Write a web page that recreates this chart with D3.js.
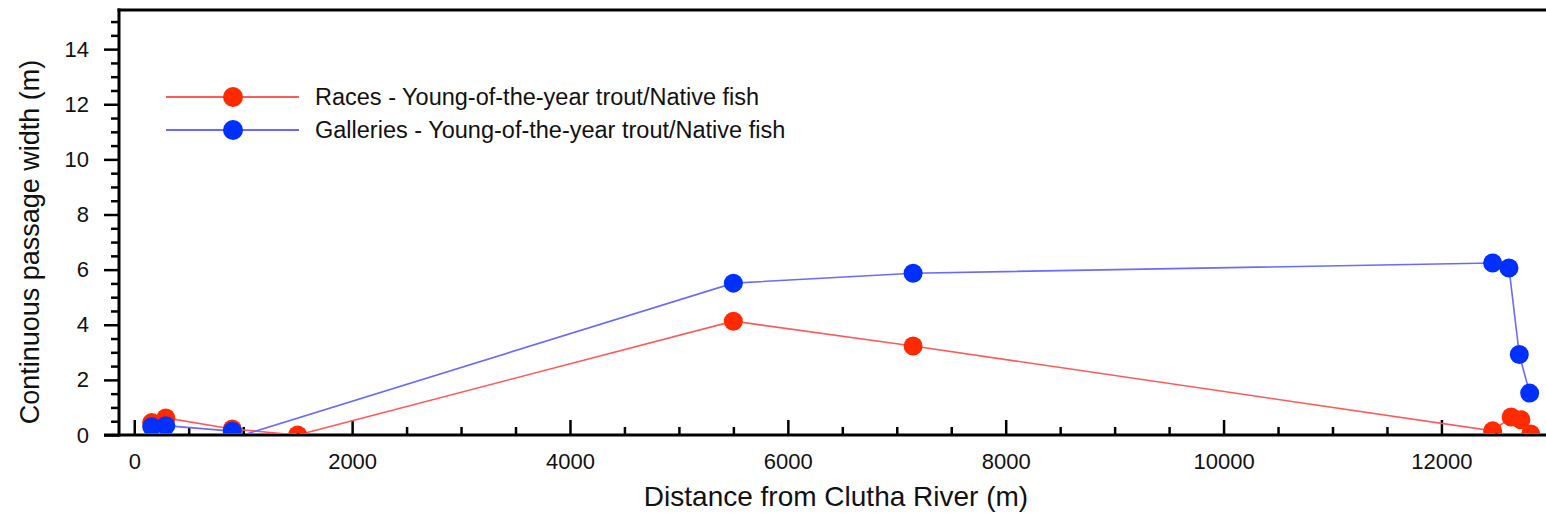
<!DOCTYPE html>
<html>
<head>
<meta charset="utf-8">
<script src="https://cdn.jsdelivr.net/npm/d3@7"></script>
<style>
  html, body { margin: 0; padding: 0; background: #fff; }
  svg { display: block; font-family: "Liberation Sans", Arial, Helvetica, sans-serif; }
</style>
</head>
<body>
<svg id="chart" width="1546" height="520"></svg>
<script>
// Distance from the Clutha River (m) and continuous passage width (m)
const racesDistance = [160, 290, 900, 1500, 5500, 7150, 12470, 12640, 12730, 12820];
const racesWidth    = [0.45, 0.62, 0.22, 0.0, 4.13, 3.23, 0.15, 0.65, 0.55, 0.04];

const galleriesDistance = [160, 290, 900, 1000, 5500, 7150, 12470, 12620, 12715, 12810];
const galleriesWidth    = [0.30, 0.34, 0.14, 0.0, 5.51, 5.87, 6.24, 6.06, 2.92, 1.52];

const seriesNames = [
  "Races - Young-of-the-year trout/Native fish",
  "Galleries - Young-of-the-year trout/Native fish"
];

const xMajorTicks = [0, 2000, 4000, 6000, 8000, 10000, 12000];
const yMajorTicks = [0, 2, 4, 6, 8, 10, 12, 14];

const xTitle = "Distance from Clutha River (m)";
const yTitle = "Continuous passage width (m)";

// ---- layout ----
const svg = d3.select("#chart");
const plotLeft = 119, plotRight = 1546, plotTop = 10, plotBottom = 435;

const x = d3.scaleLinear().domain([-140, 12960]).range([plotLeft, plotRight]);
const y = d3.scaleLinear().domain([0, 15.42]).range([plotBottom, plotTop]);

const xMinorTicks = d3.range(0, 12960, 500).filter(v => !xMajorTicks.includes(v));
const yMinorTicks = d3.range(0, 15.4, 0.5).filter(v => !yMajorTicks.includes(v));

const series = [
  { name: seriesNames[0], xs: racesDistance, ys: racesWidth,
    line: "#ff5a5a", marker: "#ff2a00" },
  { name: seriesNames[1], xs: galleriesDistance, ys: galleriesWidth,
    line: "#6a6aff", marker: "#0030ff" }
];

// ---- axes ----
const axisWidth = 3;
const tickFont = 22;
const fmt = d3.format("d");

// y axis: ticks point outward
const yMinorAxis = svg.append("g")
  .attr("transform", `translate(${plotLeft},0)`)
  .call(d3.axisLeft(y).tickValues(yMinorTicks).tickSize(8).tickSizeOuter(0).tickFormat(""));
const yMajorAxis = svg.append("g")
  .attr("transform", `translate(${plotLeft},0)`)
  .call(d3.axisLeft(y).tickValues(yMajorTicks).tickSize(15).tickPadding(15)
    .tickSizeOuter(0).tickFormat(fmt));

// x axis: ticks point inward
const xMinorAxis = svg.append("g")
  .attr("transform", `translate(0,${plotBottom})`)
  .call(d3.axisBottom(x).tickValues(xMinorTicks).tickSize(-8).tickSizeOuter(0).tickFormat(""));
const xMajorAxis = svg.append("g")
  .attr("transform", `translate(0,${plotBottom})`)
  .call(d3.axisBottom(x).tickValues(xMajorTicks).tickSize(-15).tickPadding(18)
    .tickSizeOuter(0).tickFormat(fmt));

[yMinorAxis, yMajorAxis, xMinorAxis, xMajorAxis].forEach(g => {
  g.select(".domain").remove();
  g.selectAll(".tick line").attr("stroke", "#000").attr("stroke-width", 2.5);
  g.selectAll(".tick text")
    .attr("fill", "#111")
    .style("font-size", tickFont + "px")
    .style("font-family", "'Liberation Sans', Arial, sans-serif");
});

// frame lines: left axis, bottom axis (extending under the y ticks), top border
svg.append("line")
  .attr("x1", plotLeft).attr("x2", plotLeft)
  .attr("y1", plotTop - 1.5).attr("y2", plotBottom + 1.5)
  .attr("stroke", "#000").attr("stroke-width", axisWidth);
svg.append("line")
  .attr("x1", plotLeft - 15).attr("x2", plotRight)
  .attr("y1", plotBottom).attr("y2", plotBottom)
  .attr("stroke", "#000").attr("stroke-width", axisWidth);
svg.append("line")
  .attr("x1", plotLeft - 1.5).attr("x2", plotRight)
  .attr("y1", plotTop).attr("y2", plotTop)
  .attr("stroke", "#000").attr("stroke-width", axisWidth);

// axis titles
svg.append("text")
  .attr("x", 836)
  .attr("y", 506)
  .attr("text-anchor", "middle")
  .attr("fill", "#111")
  .style("font-size", "28px")
  .text(xTitle);

svg.append("text")
  .attr("transform", `translate(39,242) rotate(-90)`)
  .attr("text-anchor", "middle")
  .attr("fill", "#111")
  .style("font-size", "27px")
  .text(yTitle);

// ---- data ----
svg.append("clipPath").attr("id", "plot-clip")
  .append("rect")
  .attr("x", plotLeft + 1.5).attr("y", plotTop + 1.5)
  .attr("width", plotRight - plotLeft).attr("height", plotBottom - plotTop - 3);

const plot = svg.append("g").attr("clip-path", "url(#plot-clip)");
const lineGen = d3.line().x(d => x(d[0])).y(d => y(d[1]));
const markerRadius = 9.5;

series.forEach(s => {
  const pts = s.xs.map((v, i) => [v, s.ys[i]]);
  plot.append("path")
    .datum(pts)
    .attr("d", lineGen)
    .attr("fill", "none")
    .attr("stroke", s.line)
    .attr("stroke-width", 1.6);
});

// markers on top of both lines; a galleries reading of exactly zero is a line vertex only
series.forEach((s, si) => {
  const pts = s.xs.map((v, i) => [v, s.ys[i]])
    .filter(d => si === 0 || d[1] > 0);
  plot.selectAll(null)
    .data(pts)
    .enter().append("circle")
    .attr("cx", d => x(d[0]))
    .attr("cy", d => y(d[1]))
    .attr("r", markerRadius)
    .attr("fill", s.marker);
});

// ---- legend ----
const legend = svg.append("g");
series.forEach((s, i) => {
  const ly = 97 + i * 33;
  legend.append("line")
    .attr("x1", 166).attr("x2", 299)
    .attr("y1", ly).attr("y2", ly)
    .attr("stroke", s.line).attr("stroke-width", 2.2);
  legend.append("circle")
    .attr("cx", 233).attr("cy", ly).attr("r", 10)
    .attr("fill", s.marker);
  legend.append("text")
    .attr("x", 315).attr("y", ly)
    .attr("dy", "0.35em")
    .attr("fill", "#111")
    .style("font-size", "23.5px")
    .text(s.name);
});
</script>
</body>
</html>
